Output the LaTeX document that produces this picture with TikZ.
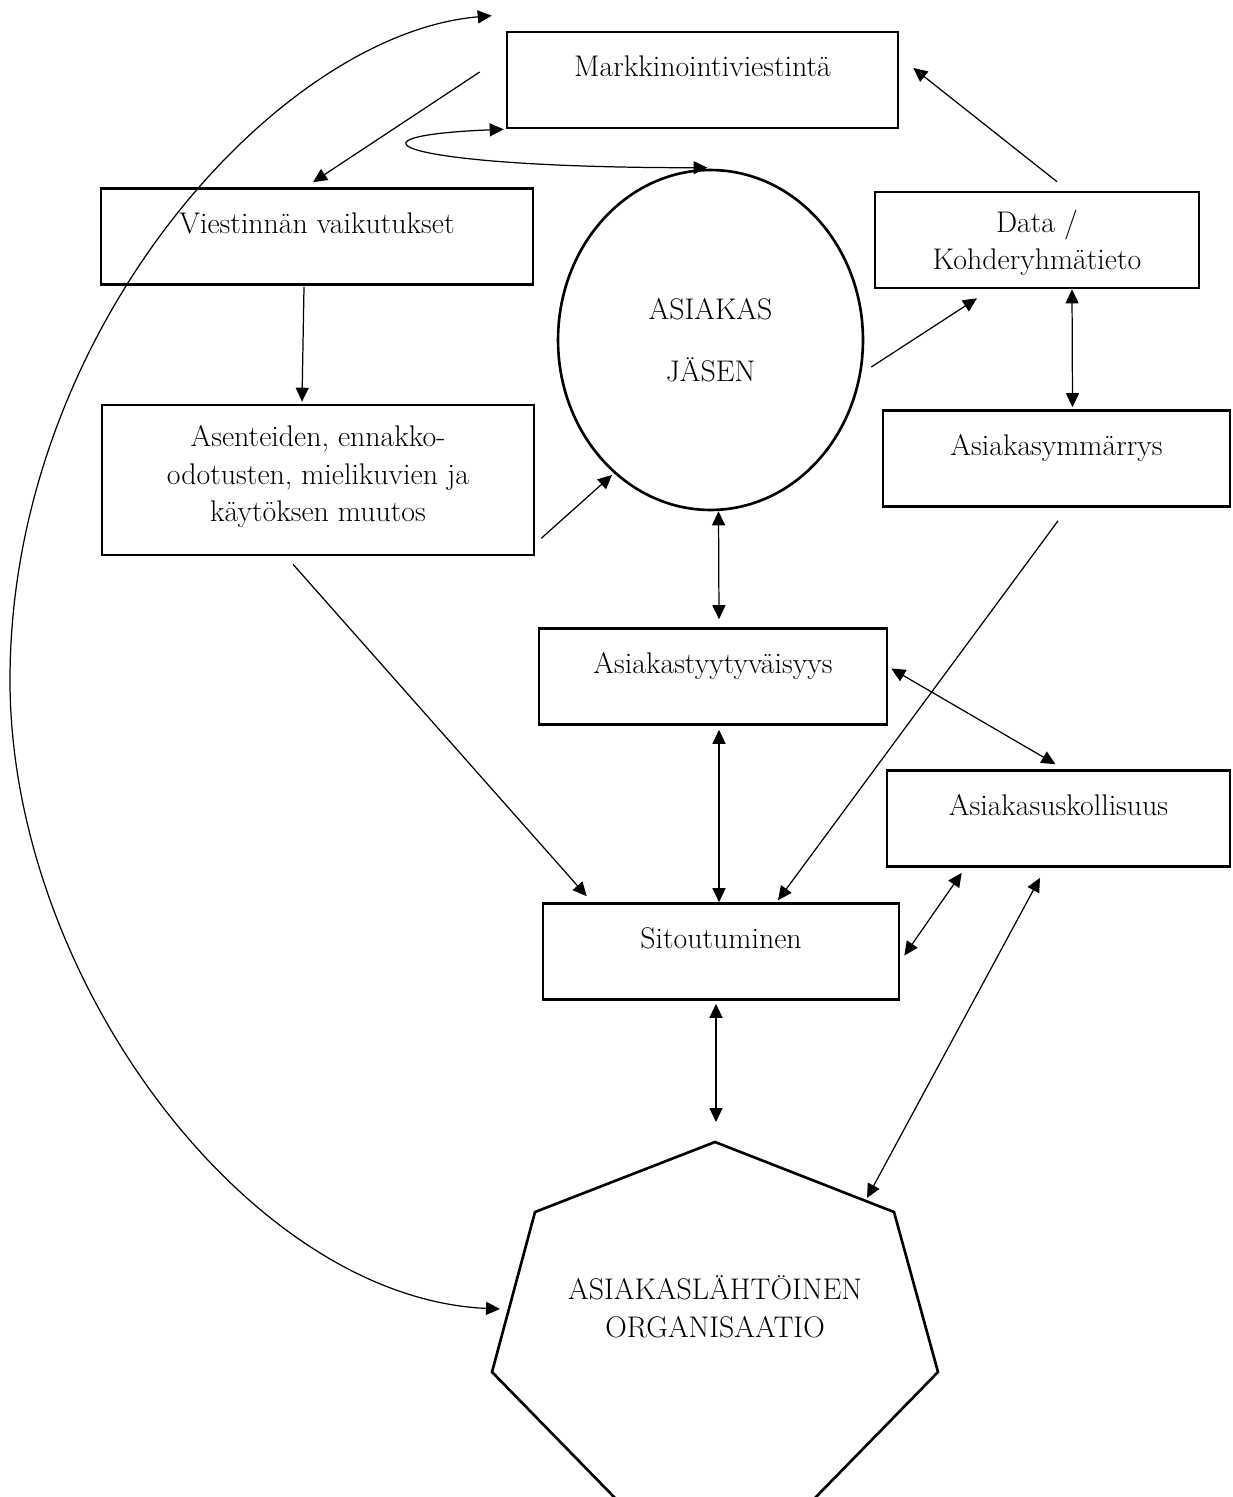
\documentclass[tikz,border=0pt]{standalone}
\usetikzlibrary{shapes.geometric, arrows.meta}

\begin{document}
\begin{tikzpicture}[x=0.02cm, y=-0.02cm,
  every node/.style={font=\fontsize{17}{21.6}\selectfont, inner sep=0pt},
  box/.style={draw, line width=1.5pt, align=center,
              text height=0.9cm, text depth=1.02cm},
  oval/.style={draw, ellipse, line width=1.5pt, align=center,
               minimum width=6.1cm, minimum height=6.8cm,
               font=\fontsize{17}{35.2}\selectfont},
  arrow/.style={-{Triangle[length=0.28cm, width=0.26cm]}, line width=0.7pt},
  both/.style={{Triangle[length=0.28cm, width=0.26cm]}-{Triangle[length=0.28cm, width=0.26cm]},
               line width=0.7pt}]
\clip (0,0) rectangle (1232,1497);

\node[box, minimum width=7.82cm] (mk) at (702.5,80) {Markkinointiviestintä};
\node[box, minimum width=8.64cm] (viest) at (317,236.5) {Viestinnän vaikutukset};
\node[box, minimum width=8.64cm, text height=2.34cm, text depth=0.66cm] (asent) at (318,480)
  {Asenteiden, ennakko-\\odotusten, mielikuvien ja\\käytöksen muutos};
\node[oval] (as) at (710.5,340) {ASIAKAS\\JÄSEN};
\node[box, minimum width=6.48cm, text height=1.56cm, text depth=0.36cm] (data) at (1037,240)
  {Data /\\Kohderyhmätieto};
\node[box, minimum width=6.94cm] (ymm) at (1056.5,458.5) {Asiakasymmärrys};
\node[box, minimum width=6.96cm] (tyyt) at (713,676.5) {Asiakastyytyväisyys};
\node[box, minimum width=6.86cm] (usk) at (1058.5,818.5) {Asiakasuskollisuus};
\node[box, minimum width=7.12cm] (sit) at (721,951.5) {Sitoutuminen};

% organisaatio
\draw[line width=1.5pt] (715,1142) -- (894,1212) -- (938,1372) -- (813,1500)
  -- (617,1500) -- (492,1372) -- (535,1212) -- cycle;
\node[align=center] (org) at (715,1307) {ASIAKASLÄHTÖINEN\\ORGANISAATIO};

\draw[arrow] ([shift={(-26,-8)}]mk.west) -- ([shift={(-4,-5)}]viest.north);
\draw[both] ([shift={(-2,0)}]mk.south west) .. controls +(-175,7) and +(-307,0)
  .. ([shift={(-3,-1)}]as.north);
\draw[arrow] ([shift={(20,-9)}]data.north) -- ([shift={(14,-12)}]mk.east);
\draw[arrow] ([shift={(7,27)}]as.east) -- ([shift={(-60,9)}]data.south);
\draw[both] ([shift={(35,0)}]data.south) -- ([shift={(16,-2)}]ymm.north);
\draw[arrow] ([shift={(-13,1)}]viest.south) -- ([shift={(-16,-2)}]asent.north);
\draw[arrow] ([shift={(6,-18)}]asent.south east) -- ([shift={(-98.5,135)}]as.center);
\draw[arrow] ([shift={(-25,8)}]asent.south) -- ([shift={(45,-6)}]sit.north west);
\draw[both] ([shift={(8,0)}]as.south) -- ([shift={(6,-8)}]tyyt.north);
\draw[both] ([shift={(6,4)}]tyyt.south) -- ([shift={(-2,0)}]sit.north);
\draw[both] ([shift={(3,-8)}]tyyt.east) -- ([shift={(-3,-5)}]usk.north);
\draw[arrow] ([shift={(1.5,13)}]ymm.south) -- ([shift={(57,-2)}]sit.north);
\draw[both] ([shift={(4,4)}]sit.east) -- ([shift={(76,5)}]usk.south west);
\draw[both] ([shift={(-18.5,10)}]usk.south) -- ([shift={(152,-109)}]org.center);
\draw[both] ([shift={(-5,3)}]sit.south) -- ([shift={(1,-185)}]org.center);

% palaute
\draw[both] ([shift={(-14,-15)}]mk.north west) .. controls +(-213,18) and +(0,-350)
  .. (10,680) .. controls +(0,300) and +(-250,-11) .. ([shift={(-215,2)}]org.center);
\end{tikzpicture}
\end{document}
